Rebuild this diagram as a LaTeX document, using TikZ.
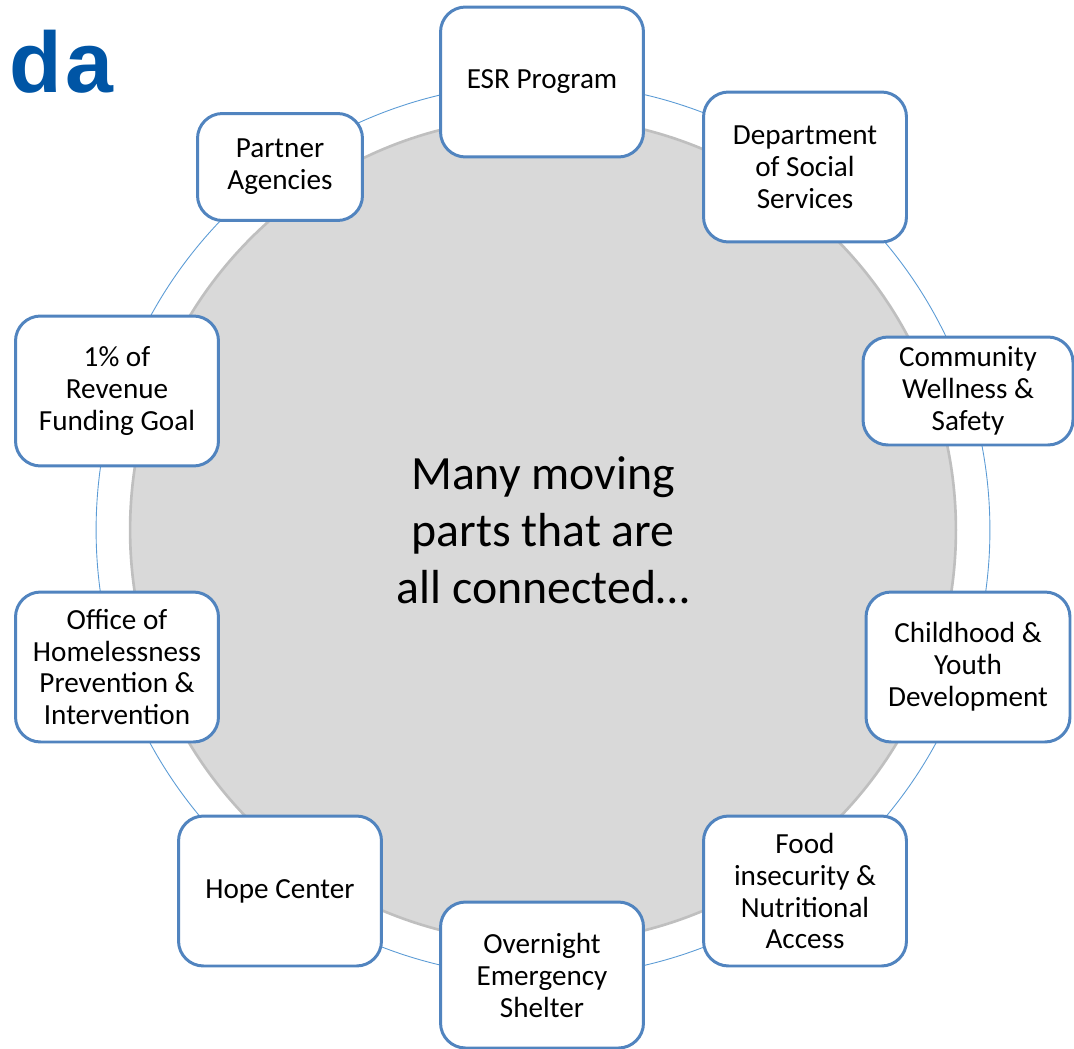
\documentclass[tikz,border=0pt]{standalone}
\usepackage{fontspec}
\setmainfont{Carlito}
\newfontfamily\titlefont{Liberation Sans}
\usetikzlibrary{positioning}
\definecolor{ringblue}{HTML}{5B9BD5}
\definecolor{boxblue}{HTML}{5184BF}
\definecolor{hubgrey}{HTML}{D9D9D9}
\definecolor{hubedge}{HTML}{BFBFBF}
\definecolor{titleblue}{HTML}{0055A5}

\begin{document}
\begin{tikzpicture}[x=0.02cm, y=-0.02cm,
        part/.style={draw=boxblue, line width=1.7pt, fill=white, rounded corners=0.5cm,
            align=center, minimum width=4.06cm, minimum height=3cm, inner sep=2pt,
            font=\fontsize{16.6}{18.2}\selectfont}]
        \useasboundingbox (0,0) rectangle (1074,1048);
        % ring and hub
        \draw[ringblue, line width=0.5pt] (543,530) circle[radius=8.94cm];
        \node[circle, fill=hubgrey, draw=hubedge, line width=1.5pt, minimum size=16.52cm,
            align=center, font=\fontsize{27.2}{32.4}\selectfont] (hub) at (543,530)
            {Many moving\\parts that are\\all connected…};
        % the ten parts
        \node[part] (esr) at (542,82) {ESR Program};
        \node[part] (dss) at (805,167) {Department\\of Social\\Services};
        \node[part, minimum width=4.2cm, minimum height=2.16cm] (cws) at (968,391) {Community\\Wellness \&\\Safety};
        \node[part, minimum width=4.08cm] (cyd) at (968,667) {Childhood \&\\Youth\\Development};
        \node[part] (food) at (805,891) {Food\\insecurity \&\\Nutritional\\Access};
        \node[part, minimum height=2.92cm] (shelter) at (542,975) {Overnight\\Emergency\\Shelter};
        \node[part] (hope) at (280,891) {Hope Center};
        \node[part] (ohpi) at (117,667) {Office of\\Homelessness\\Prevention \&\\Intervention};
        \node[part] (rev) at (117,391) {1\% of\\Revenue\\Funding Goal};
        \node[part, minimum width=3.3cm, minimum height=2.14cm] (partner) at (280,167) {Partner\\Agencies};
        % title fragment
        \node[anchor=base west, inner sep=0pt, text=titleblue, font=\titlefont\bfseries\fontsize{49}{56}\selectfont] (title) at (9.5,92)
            {d\hspace{0.07cm}a};
\end{tikzpicture}
\end{document}
